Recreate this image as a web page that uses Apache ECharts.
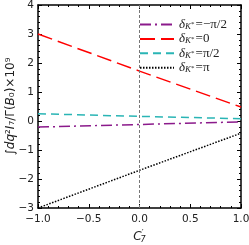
<!DOCTYPE html>
<html><head><meta charset="utf-8">
<script src="https://cdn.jsdelivr.net/npm/echarts@6/dist/echarts.min.js"></script>
<style>html,body{margin:0;padding:0;background:#fff}#c{width:249px;height:245px}</style>
</head><body><div id="c"></div>
<script>
const xValues = [-1, 0, 1];
const seriesNames = ['δK*=−π/2', 'δK*=0', 'δK*=π/2', 'δK*=π'];
const legendLabels = ['=−π/2', '=0', '=π/2', '=π'];
const yMinusHalfPi = [-0.21, -0.12, -0.03];
const yZero = [3.0, 1.72, 0.48];
const yHalfPi = [0.25, 0.16, 0.08];
const yPi = [-3.0, -1.7, -0.42];
const xTicks = [-1.0, -0.5, 0.0, 0.5, 1.0];
const yTicks = [-3, -2, -1, 0, 1, 2, 3, 4];

const colors = ['#8b1a8b', '#ff0000', '#2ab5b5', '#000000'];
const dashes = [[11, 4, 2, 4], [15, 6], [8, 5], [1.5, 1.5]];
const allY = [yMinusHalfPi, yZero, yHalfPi, yPi];

const chart = echarts.init(document.getElementById('c'), null, {renderer: 'canvas'});
const tickFont = {fontFamily: 'DejaVu Sans', fontSize: 10.5, color: '#222'};
function mkX(pos, showLabel) {
  return {
    type: 'value', min: -1, max: 1, interval: 0.5, position: pos, gridIndex: 0,
    axisLine: {show: true, onZero: false, lineStyle: {color: '#000', width: 1.5}},
    axisTick: {show: true, inside: true, length: 4, lineStyle: {color: '#000', width: 1}},
    minorTick: {show: true, splitNumber: 5, length: 2, lineStyle: {color: '#000', width: 1}},
    splitLine: {show: false},
    axisLabel: showLabel ? Object.assign({}, tickFont, {margin: 6, formatter: v => v.toFixed(1).replace('-', '−')}) : {show: false}
  };
}
function mkY(pos, showLabel) {
  return {
    type: 'value', min: -3, max: 4, interval: 1, position: pos, gridIndex: 0,
    axisLine: {show: true, onZero: false, lineStyle: {color: '#000', width: 1.5}},
    axisTick: {show: true, inside: true, length: 4, lineStyle: {color: '#000', width: 1}},
    minorTick: {show: true, splitNumber: 5, length: 2, lineStyle: {color: '#000', width: 1}},
    splitLine: {show: false},
    axisLabel: showLabel ? Object.assign({}, tickFont, {margin: 4, formatter: v => String(v).replace('-', '−')}) : {show: false}
  };
}

const series = seriesNames.map((n, i) => ({
  name: n, type: 'line', xAxisIndex: 0, yAxisIndex: 0,
  data: xValues.map((x, j) => [x, allY[i][j]]),
  showSymbol: false, symbol: 'none',
  lineStyle: {color: colors[i], width: 1.5, type: dashes[i]},
  itemStyle: {color: colors[i]},
  z: 3
}));
series[0].markLine = {
  silent: true, symbol: 'none', label: {show: false},
  lineStyle: {color: '#777', type: [3, 2], width: 1},
  data: [{xAxis: 0}]
};
series.push({type: 'line', xAxisIndex: 1, yAxisIndex: 1, data: [], silent: true});

const xb = mkX('bottom', true);
xb.name = '{c|C}{p|′}{s|7}';
xb.nameLocation = 'middle';
xb.nameGap = 22;
xb.nameMoveOverlap = false;
xb.nameTextStyle = {rich: {
  c: {fontFamily: 'DejaVu Sans', fontStyle: 'italic', fontSize: 12, color: '#222'},
  p: {fontFamily: 'DejaVu Sans', fontSize: 8, color: '#222', verticalAlign: 'top'},
  s: {fontFamily: 'DejaVu Sans', fontStyle: 'italic', fontSize: 8, color: '#222', padding: [6, 0, 0, -3]}
}};
const yl = mkY('left', true);
yl.name = '∫{i|dq}²{i|I}₇/Γ({i|B}₀)×10⁹';
yl.nameLocation = 'middle';
yl.nameGap = 21;
yl.nameRotate = 90;
yl.nameMoveOverlap = false;
yl.nameTextStyle = {fontFamily: 'DejaVu Sans', fontSize: 12, color: '#222',
  rich: {i: {fontFamily: 'DejaVu Sans', fontStyle: 'italic', fontSize: 12, color: '#222'}}};

chart.setOption({
  animation: false,
  grid: {left: 38, right: 8, top: 5, bottom: 37, containLabel: false, outerBoundsMode: 'none'},
  xAxis: [xb, mkX('top', false)],
  yAxis: [yl, mkY('right', false)],
  legend: {
    show: true, left: 134, top: 13, orient: 'vertical',
    itemWidth: 34, itemHeight: 10, itemGap: 1.4,
    data: seriesNames,
    itemStyle: {opacity: 0},
    formatter: name => {
      const i = seriesNames.indexOf(name);
      return '{d|δ}{k|K}{st|*}{t|' + legendLabels[i] + '}';
    },
    textStyle: {
      lineHeight: 13,
      rich: {
        d: {fontFamily: 'Liberation Serif', fontStyle: 'italic', fontSize: 13, lineHeight: 13, color: '#222'},
        k: {fontFamily: 'Liberation Serif', fontStyle: 'italic', fontSize: 9, lineHeight: 9, color: '#222', verticalAlign: 'bottom'},
        st: {fontFamily: 'Liberation Serif', fontSize: 7, lineHeight: 7, color: '#222', verticalAlign: 'middle', padding: [0, 1, 0, 0]},
        t: {fontFamily: 'Liberation Serif', fontSize: 13, lineHeight: 13, color: '#222'}
      }
    }
  },
  series: series
});
</script>
</body></html>
